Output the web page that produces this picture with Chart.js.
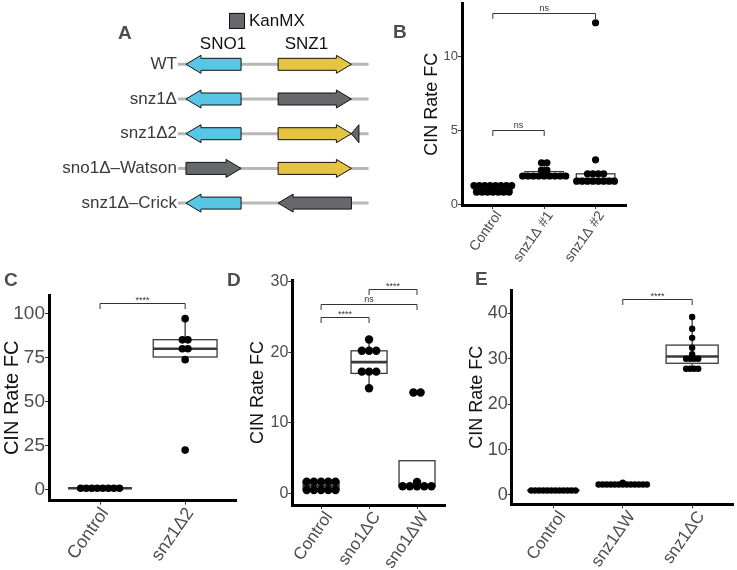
<!DOCTYPE html>
<html>
<head>
<meta charset="utf-8">
<script src="https://cdn.jsdelivr.net/npm/chart.js@4.4.0/dist/chart.umd.min.js"></script>
<style>
  body { margin: 0; background: #fff; width: 737px; height: 570px; position: relative; overflow: hidden;
         font-family: "Liberation Sans", Arial, sans-serif; }
  canvas { position: absolute; }
  .tag { position: absolute; font-weight: bold; font-size: 19px; line-height: 19px; color: #4d4d4d; }
</style>
</head>
<body>
<canvas id="pA" width="380" height="230" style="left:0;top:0"></canvas>
<canvas id="pC" width="240" height="310" style="left:0;top:260px"></canvas>
<canvas id="pD" width="210" height="310" style="left:240px;top:260px"></canvas>
<canvas id="pE" width="287" height="310" style="left:450px;top:260px"></canvas>
<canvas id="pB" width="250" height="268" style="left:380px;top:0"></canvas>
<div class="tag" style="left:118px;top:23px">A</div>
<div class="tag" style="left:393px;top:22px">B</div>
<div class="tag" style="left:4px;top:270px">C</div>
<div class="tag" style="left:227px;top:270px">D</div>
<div class="tag" style="left:475px;top:269px">E</div>
<script>
// --- A: locus map (positions in bp) ---
const strains = ['WT', 'snz1Δ', 'snz1Δ2', 'sno1Δ–Watson', 'snz1Δ–Crick'];
const locusSpan = [-98, 2228];
const sno1Span = [0, 672];
const snz1Span = [1124, 2018];
const leftGene = ['SNO1', 'SNO1', 'SNO1', 'KanMX', 'SNO1'];
const leftDir = [-1, -1, -1, 1, -1];
const rightGene = ['SNZ1', 'KanMX', 'SNZ1', 'SNZ1', 'KanMX'];
const rightDir = [1, 1, 1, 1, -1];
const kanStub = [null, null, [2018, 2110], null, null];
const geneNames = ['SNO1', 'SNZ1'];
const geneNameAt = [451, 1470];

// --- B ---
const catsB = ['Control', 'snz1Δ #1', 'snz1Δ #2'];
const ctrlB = [1.25, 1.25, 1.25, 1.25, 1.25, 1.25, 1.25, 1.25, 0.8, 0.8, 0.8, 0.8, 0.8, 0.8, 0.8];
const snz1aB = [1.9, 1.9, 1.9, 1.9, 1.9, 1.9, 1.9, 1.9, 1.9, 2.3, 2.3, 2.8, 2.8];
const snz1bB = [1.55, 1.55, 1.55, 1.55, 1.55, 1.55, 1.55, 1.55, 2.05, 2.05, 2.05, 2.05, 3.0, 12.3];
const q1B = [0.8, 1.9, 1.55], medB = [1.0, 2.0, 1.7], q3B = [1.25, 2.2, 2.05];
const loB = [0.8, 1.9, 1.55], hiB = [1.25, 2.8, 2.05];
const yTicksB = [0, 5, 10];
const brPairsB = [[1, 2], [1, 3]], brYB = [5.0, 12.95], brTextB = ['ns', 'ns'];

// --- C ---
const catsC = ['Control', 'snz1Δ2'];
const ctrlC = [1, 1, 1, 1, 1, 1, 1, 1];
const snz1C = [97, 85, 85, 80, 80, 73.8, 22.6];
const q1C = [1, 75.3], medC = [1, 80], q3C = [1, 85.1];
const loC = [1, 73.8], hiC = [1, 97];
const yTicksC = [0, 25, 50, 75, 100];
const brPairsC = [[1, 2]], brYC = [106], brTextC = ['****'];

// --- D ---
const catsD = ['Control', 'sno1ΔC', 'sno1ΔW'];
const ctrlD = [1.65, 1.65, 1.65, 1.65, 1.65, 0.47, 0.47, 0.47, 0.47, 0.47];
const sno1CD = [21.8, 20.2, 20.2, 20.2, 17.25, 17.25, 17.25, 14.9];
const sno1WD = [14.3, 14.3, 1.6, 1.0, 1.0, 1.0, 1.0, 1.0];
const q1D = [0.55, 17.0, 1.0], medD = [1.05, 18.6, 1.0], q3D = [1.65, 20.2, 4.62];
const loD = [0.47, 14.9, 1.0], hiD = [1.65, 21.8, 4.62];
const yTicksD = [0, 10, 20, 30];
const brPairsD = [[1, 2], [1, 3], [2, 3]], brYD = [24.97, 26.9, 28.9], brTextD = ['****', 'ns', '****'];

// --- E ---
const catsE = ['Control', 'snz1ΔW', 'snz1ΔC'];
const ctrlE = [1, 1, 1, 1, 1, 1, 1, 1, 1, 1, 1, 1];
const snz1WE = [2.3, 2.3, 2.3, 2.3, 2.3, 2.3, 2.3, 2.3, 2.3, 2.3, 2.3, 2.3, 2.3, 2.7];
const snz1CE = [39.2, 36.6, 34.6, 32.4, 31.0, 30.0, 30.0, 30.0, 30.0, 27.8, 27.8, 27.8, 27.8];
const q1E = [1, 2.3, 29.0], medE = [1, 2.3, 30.5], q3E = [1, 2.3, 33.0];
const loE = [1, 2.3, 27.8], hiE = [1, 2.3, 39.2];
const yTicksE = [0, 10, 20, 30, 40];
const brPairsE = [[2, 3]], brYE = [43.2], brTextE = ['****'];

Chart.defaults.font.family = '"Liberation Sans", Arial, sans-serif';

const geneColors = { SNO1: '#5ac6e7', SNZ1: '#e7c343', KanMX: '#67686b' };

function geneArrow(ctx, xa, xb, yc, dir, fill) {
    const bh = 6, hh = 9, hl = 15;
    ctx.beginPath();
    if (dir > 0) {
        ctx.moveTo(xa, yc - bh); ctx.lineTo(xb - hl, yc - bh); ctx.lineTo(xb - hl, yc - hh);
        ctx.lineTo(xb, yc); ctx.lineTo(xb - hl, yc + hh); ctx.lineTo(xb - hl, yc + bh); ctx.lineTo(xa, yc + bh);
    } else {
        ctx.moveTo(xb, yc - bh); ctx.lineTo(xa + hl, yc - bh); ctx.lineTo(xa + hl, yc - hh);
        ctx.lineTo(xa, yc); ctx.lineTo(xa + hl, yc + hh); ctx.lineTo(xa + hl, yc + bh); ctx.lineTo(xb, yc + bh);
    }
    ctx.closePath();
    ctx.fillStyle = fill; ctx.fill();
    ctx.strokeStyle = '#111'; ctx.lineWidth = 1; ctx.stroke();
}

const geneMap = {
    id: 'geneMap',
    afterDraw(chart) {
        const { ctx, scales: { x, y } } = chart;
        ctx.save();
        ctx.font = '17px "Liberation Sans", Arial, sans-serif';
        ctx.textBaseline = 'middle';
        // legend
        const lx = x.getPixelForValue(525), ly = y.getPixelForValue(-1.25);
        ctx.fillStyle = geneColors.KanMX; ctx.fillRect(lx, ly - 8, 16, 16);
        ctx.strokeStyle = '#111'; ctx.lineWidth = 1; ctx.strokeRect(lx + 0.5, ly - 7.5, 15, 15);
        ctx.fillStyle = '#111'; ctx.textAlign = 'left'; ctx.fillText('KanMX', lx + 20, ly);
        // gene names
        ctx.textAlign = 'center';
        geneNames.forEach((g, i) => ctx.fillText(g, x.getPixelForValue(geneNameAt[i]), y.getPixelForValue(-0.58)));
        strains.forEach((name, i) => {
            const yc = y.getPixelForValue(i);
            const xa = x.getPixelForValue(locusSpan[0]), xb = x.getPixelForValue(locusSpan[1]);
            ctx.strokeStyle = '#b7b7b7'; ctx.lineWidth = 3;
            ctx.beginPath(); ctx.moveTo(xa, yc); ctx.lineTo(xb, yc); ctx.stroke();
            ctx.fillStyle = '#3a3a3a'; ctx.textAlign = 'right';
            ctx.fillText(name, xa - 1, yc);
            geneArrow(ctx, x.getPixelForValue(sno1Span[0]), x.getPixelForValue(sno1Span[1]), yc, leftDir[i], geneColors[leftGene[i]]);
            geneArrow(ctx, x.getPixelForValue(snz1Span[0]), x.getPixelForValue(snz1Span[1]), yc, rightDir[i], geneColors[rightGene[i]]);
            if (kanStub[i]) {
                const t0 = x.getPixelForValue(kanStub[i][0]), t1 = x.getPixelForValue(kanStub[i][1]);
                ctx.beginPath(); ctx.moveTo(t0, yc); ctx.lineTo(t1, yc - 9); ctx.lineTo(t1, yc + 9); ctx.closePath();
                ctx.fillStyle = geneColors.KanMX; ctx.fill();
                ctx.strokeStyle = '#111'; ctx.lineWidth = 1; ctx.stroke();
            }
        });
        ctx.restore();
    }
};

new Chart(document.getElementById('pA'), {
    type: 'scatter',
    data: { datasets: [] },
    options: {
        responsive: false, animation: false, events: [],
        layout: { padding: 0 },
        plugins: { legend: { display: false }, tooltip: { enabled: false } },
        scales: {
            x: { type: 'linear', display: false, min: -2269, max: 2367 },
            y: { type: 'linear', display: false, reverse: true, min: -1.853, max: 4.775 }
        }
    },
    plugins: [geneMap]
});

// dot-plot stacking: equal values sit side by side around the category centre
function swarm(groups, step) {
    const pts = [];
    groups.forEach((vals, gi) => {
        const counts = {}, seen = {};
        vals.forEach(v => { counts[v] = (counts[v] || 0) + 1; });
        vals.forEach(v => {
            const k = seen[v] = (seen[v] === undefined ? 0 : seen[v] + 1);
            pts.push({ x: gi + 1 + (k - (counts[v] - 1) / 2) * step, y: v });
        });
    });
    return pts;
}

function boxLayer(p) {
    return {
        id: 'boxLayer',
        beforeDatasetsDraw(chart) {
            const { ctx, scales: { x, y } } = chart;
            ctx.save();
            ctx.strokeStyle = '#3a3a3a';
            p.q1.forEach((q1, i) => {
                const c = i + 1;
                const xl = x.getPixelForValue(c - 0.375), xr = x.getPixelForValue(c + 0.375), xc = x.getPixelForValue(c);
                const yq1 = y.getPixelForValue(q1), yq3 = y.getPixelForValue(p.q3[i]);
                ctx.lineWidth = 1.3;
                ctx.beginPath();
                ctx.moveTo(xc, y.getPixelForValue(p.hi[i])); ctx.lineTo(xc, yq3);
                ctx.moveTo(xc, yq1); ctx.lineTo(xc, y.getPixelForValue(p.lo[i]));
                ctx.stroke();
                ctx.fillStyle = '#fff';
                ctx.fillRect(xl, yq3, xr - xl, yq1 - yq3);
                ctx.strokeRect(xl, yq3, xr - xl, yq1 - yq3);
                ctx.lineWidth = 2.6;
                const ym = y.getPixelForValue(p.med[i]);
                ctx.beginPath(); ctx.moveTo(xl, ym); ctx.lineTo(xr, ym); ctx.stroke();
            });
            ctx.restore();
        },
        afterDatasetsDraw(chart) {
            const { ctx, scales: { x, y } } = chart;
            ctx.save();
            ctx.strokeStyle = '#333'; ctx.fillStyle = '#333'; ctx.lineWidth = 1;
            ctx.font = '9px "Liberation Sans", Arial, sans-serif';
            ctx.textAlign = 'center'; ctx.textBaseline = 'middle';
            p.brPairs.forEach((pr, i) => {
                const xa = x.getPixelForValue(pr[0]), xb = x.getPixelForValue(pr[1]);
                const yb = Math.round(y.getPixelForValue(p.brY[i])) + 0.5;
                ctx.beginPath();
                ctx.moveTo(xa, yb + 5.5); ctx.lineTo(xa, yb); ctx.lineTo(xb, yb); ctx.lineTo(xb, yb + 5.5);
                ctx.stroke();
                ctx.fillText(p.brText[i], (xa + xb) / 2, yb - (p.brText[i] === 'ns' ? 5 : 3));
            });
            ctx.restore();
        }
    };
}

function boxPanel(id, p) {
    const cats = p.cats;
    const tickGrid = { drawOnChartArea: false, tickLength: 4, color: '#333', lineWidth: 1 };
    new Chart(document.getElementById(id), {
        type: 'scatter',
        data: {
            datasets: [{
                data: swarm(p.groups, p.step),
                pointRadius: p.r, pointHoverRadius: p.r,
                backgroundColor: '#000', borderColor: '#000', borderWidth: 0
            }]
        },
        options: {
            responsive: false, animation: false, events: [],
            layout: { padding: { top: p.top, right: p.right, left: 0, bottom: 0 } },
            plugins: { legend: { display: false }, tooltip: { enabled: false } },
            scales: {
                x: {
                    type: 'linear', min: 0.4, max: cats.length + 0.6,
                    afterBuildTicks: s => { s.ticks = cats.map((c, i) => ({ value: i + 1 })); },
                    afterFit: s => { s.height = p.xh; s.paddingLeft = 0; s.paddingRight = 0; },
                    grid: tickGrid,
                    border: { color: '#000', width: 3 },
                    ticks: {
                        autoSkip: false, minRotation: 55, maxRotation: 55, padding: -1,
                        labelOffset: p.lofs,
                        color: '#4d4d4d', font: { size: p.xfs },
                        callback: v => cats[v - 1]
                    }
                },
                y: {
                    type: 'linear', min: p.ymin, max: p.ymax,
                    afterBuildTicks: s => { s.ticks = p.yticks.map(v => ({ value: v })); },
                    afterFit: s => { s.width = p.yw; s.paddingTop = 0; s.paddingBottom = 0; },
                    grid: tickGrid,
                    border: { color: '#000', width: 3 },
                    ticks: { padding: 0, color: '#4d4d4d', font: { size: p.yfs } },
                    title: {
                        display: true, text: 'CIN Rate FC', color: '#111',
                        font: { size: p.tfs }, padding: { top: p.tpad, bottom: 0 }
                    }
                }
            }
        },
        plugins: [boxLayer(p)]
    });
}

boxPanel('pB', {
    cats: catsB, groups: [ctrlB, snz1aB, snz1bB], step: 0.105, r: 3.6,
    q1: q1B, med: medB, q3: q3B, lo: loB, hi: hiB,
    brPairs: brPairsB, brY: brYB, brText: brTextB,
    yticks: yTicksB, ymin: -0.067, ymax: 13.6,
    top: 0, right: 0, xh: 63, yw: 82, xfs: 14, yfs: 13, tfs: 18, tpad: 41, lofs: 6
});
boxPanel('pC', {
    cats: catsC, groups: [ctrlC, snz1C], step: 0.065, r: 3.8,
    q1: q1C, med: medC, q3: q3C, lo: loC, hi: hiC,
    brPairs: brPairsC, brY: brYC, brText: brTextC,
    yticks: yTicksC, ymin: -6.06, ymax: 110.4,
    top: 35, right: 2, xh: 69.3, yw: 49, xfs: 18, yfs: 19, tfs: 20, tpad: 0, lofs: 5
});
boxPanel('pD', {
    cats: catsD, groups: [ctrlD, sno1CD, sno1WD], step: 0.15, r: 4.2,
    q1: q1D, med: medD, q3: q3D, lo: loD, hi: hiD,
    brPairs: brPairsD, brY: brYD, brText: brTextD,
    yticks: yTicksD, ymin: -1.66, ymax: 30.24,
    top: 20, right: 2, xh: 65, yw: 52.3, xfs: 17, yfs: 16, tfs: 18, tpad: 7, lofs: 8
});
boxPanel('pE', {
    cats: catsE, groups: [ctrlE, snz1WE, snz1CE], step: 0.058, r: 3.2,
    q1: q1E, med: medE, q3: q3E, lo: loE, hi: hiE,
    brPairs: brPairsE, brY: brYE, brText: brTextE,
    yticks: yTicksE, ymin: -2.05, ymax: 45.13,
    top: 30, right: 2.4, xh: 65.7, yw: 61.7, xfs: 17, yfs: 18, tfs: 18, tpad: 16, lofs: 9
});
</script>
</body>
</html>
